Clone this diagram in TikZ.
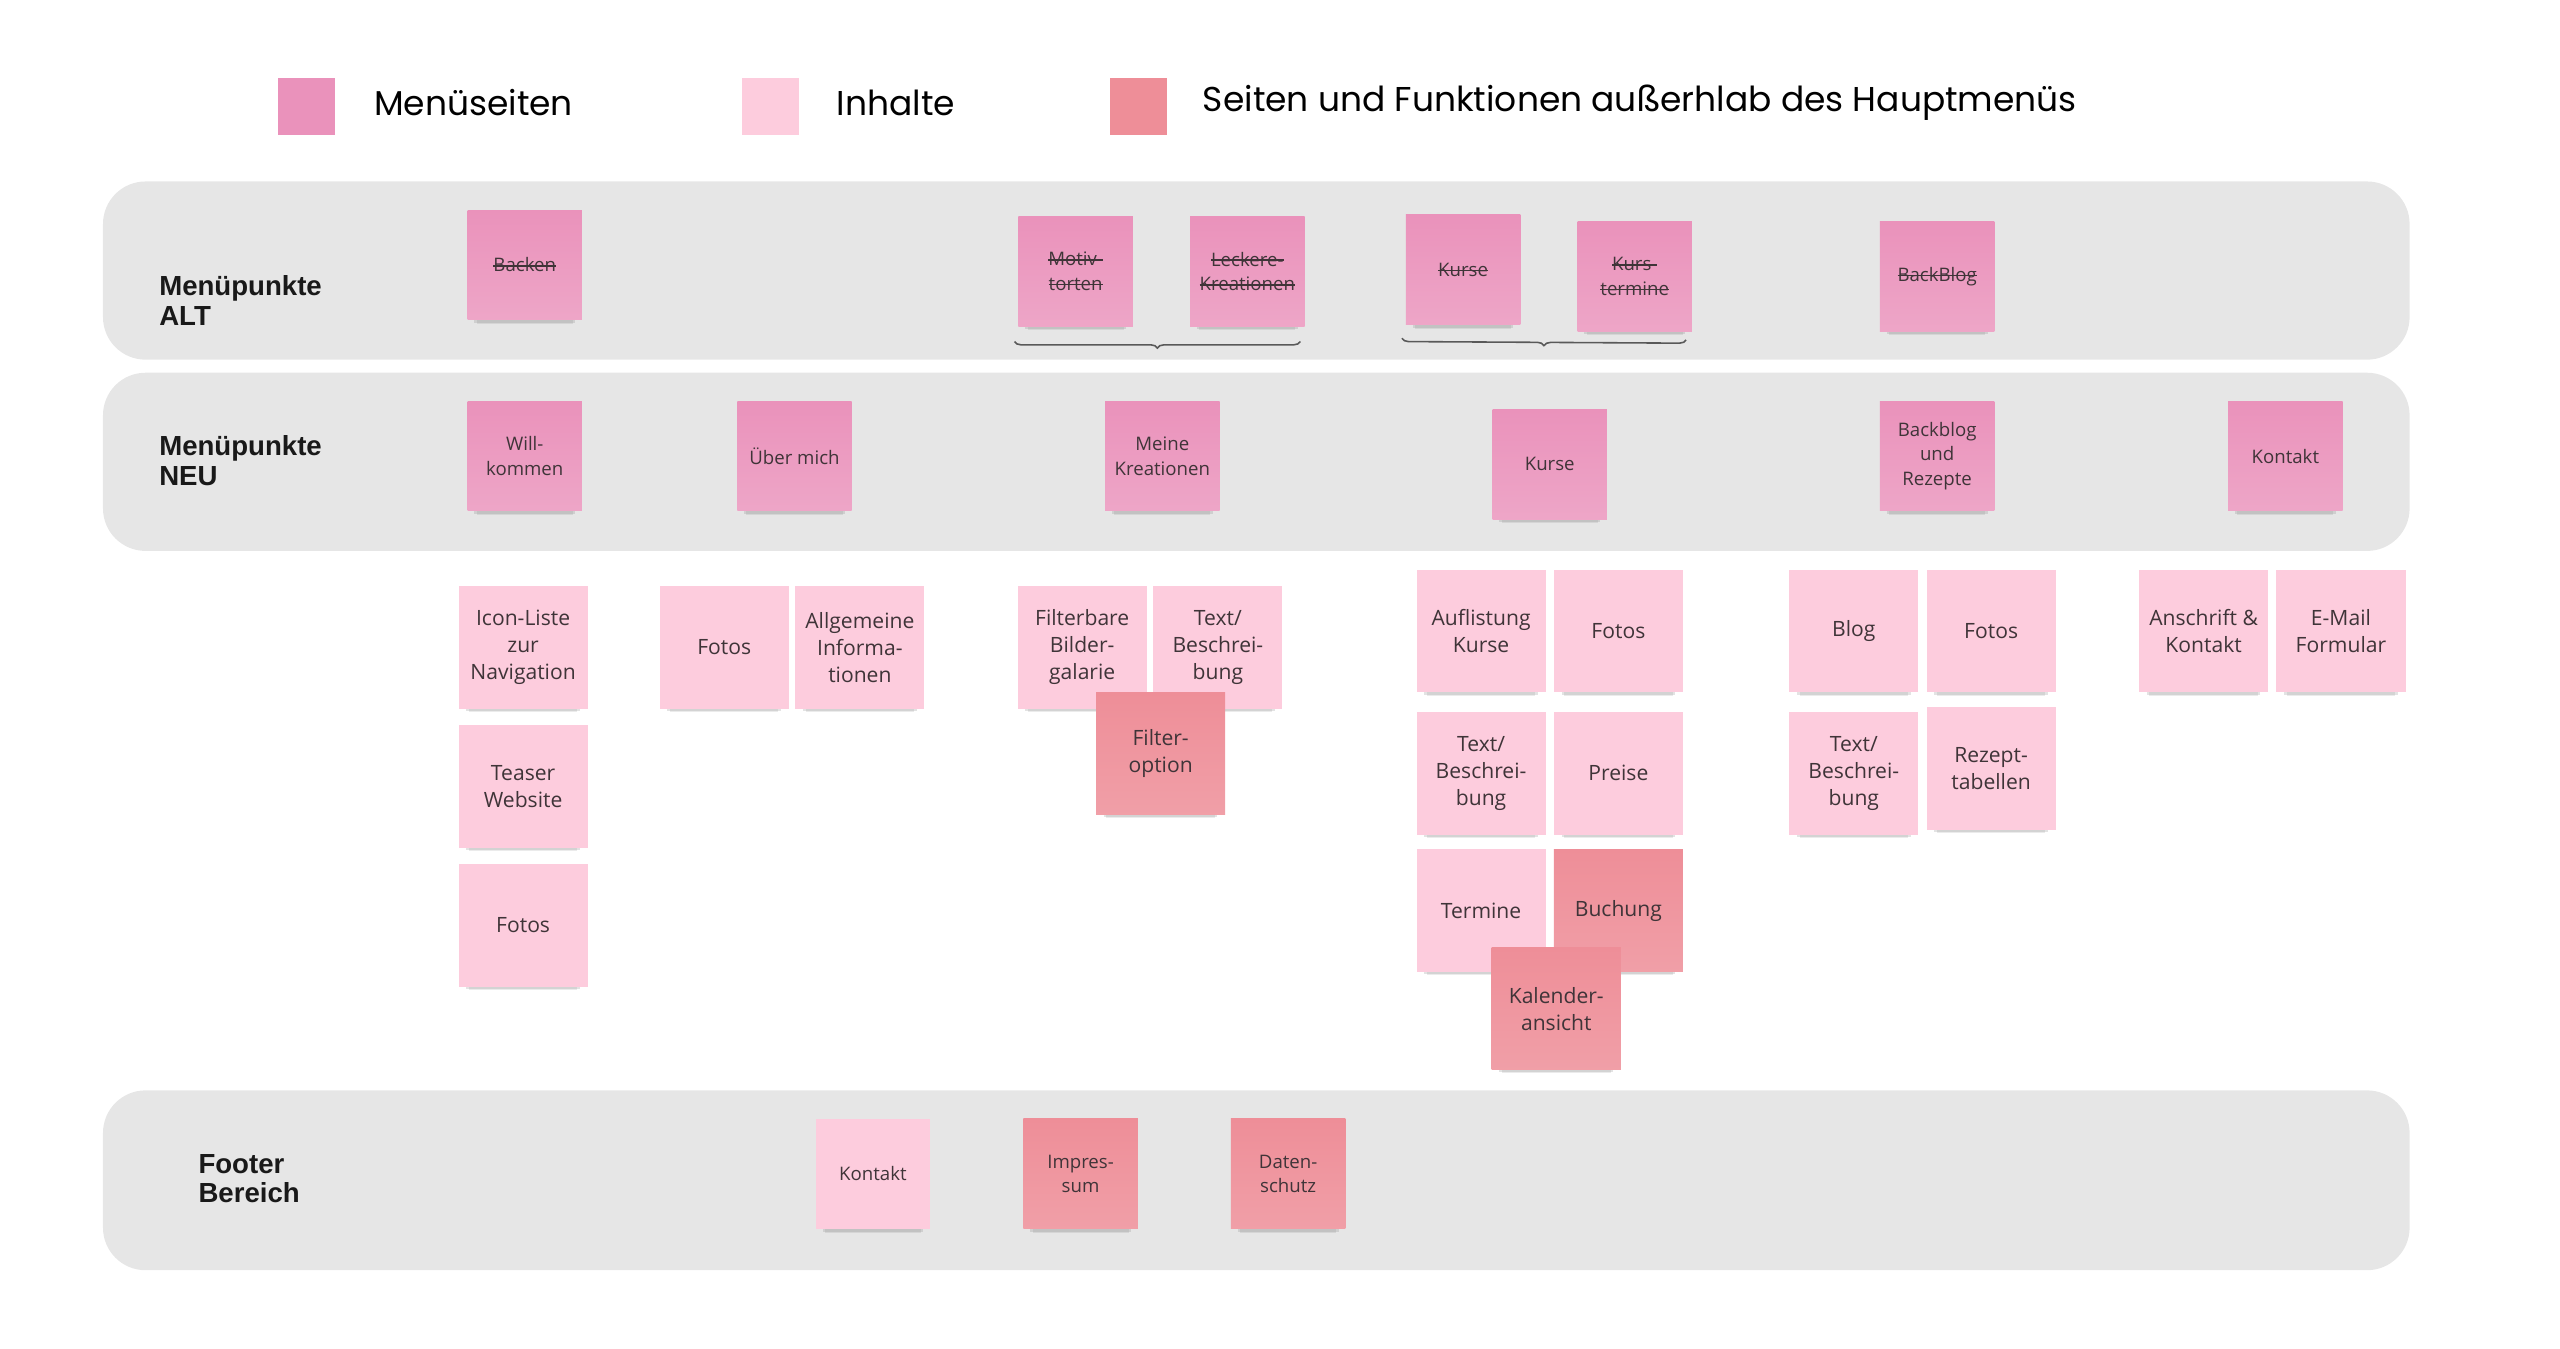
\documentclass[tikz,border=0pt]{standalone}
\usepackage{fontspec}
\usetikzlibrary{positioning,shadows,decorations.pathreplacing}

\newfontfamily\notefont{Open Sans}
\newfontfamily\legendfont{Poppins}
\newfontfamily\rowfont{Liberation Sans}

\definecolor{menupink}{HTML}{EA92BB}
\definecolor{contentpink}{HTML}{FDCCDD}
\definecolor{extrapink}{HTML}{EE8E98}
\definecolor{bandgray}{HTML}{E6E6E6}
\definecolor{notetext}{HTML}{3F3438}

\newlength\upx
\setlength\upx{0.016347cm}
\newlength\strikewd
\newcommand\strike[1]{\settowidth\strikewd{#1}\rlap{\rule[0.5ex]{\strikewd}{0.45pt}}#1}

\begin{document}
\begin{tikzpicture}[x=0.016347cm, y=-0.016347cm,
    band/.style={fill=bandgray, rounded corners=26\upx},
    rowlabel/.style={anchor=west, align=left, inner sep=0pt, text=black!90,
      font=\rowfont\bfseries\fontsize{7.85}{8.5}\selectfont},
    legendbox/.style={minimum size=35\upx, inner sep=0pt},
    legendtext/.style={inner sep=0pt, yshift=2\upx, font=\legendfont\fontsize{9.8}{12}\selectfont},
    note/.style={minimum width=70\upx, minimum height=67\upx, inner sep=0pt,
      align=center, text=notetext, font=\notefont\fontsize{5.3}{7}\selectfont,
      drop shadow={shadow xshift=0pt, shadow yshift=-4.4pt, opacity=0.16, shadow scale=0.84},
      drop shadow={shadow xshift=0pt, shadow yshift=-3.2pt, opacity=0.22, shadow scale=0.88}},
    menunote/.style={note, top color=menupink, bottom color=menupink!82!white},
    content/.style={note, fill=contentpink, minimum width=79\upx, minimum height=75\upx,
      font=\notefont\fontsize{6}{7.7}\selectfont},
    extra/.style={content, top color=extrapink, bottom color=extrapink!85!white},
    footcontent/.style={note, fill=contentpink},
    footextra/.style={note, top color=extrapink, bottom color=extrapink!85!white},
    brace/.style={draw=black!65, line width=0.45pt, decorate,
      decoration={brace, mirror, amplitude=4\upx}}]

  \useasboundingbox (0,0) rectangle (1566,824.6);

  % legend
  \node[legendbox, fill=menupink] (lgmenu) at (187.5,65) {};
  \node[legendtext, right=23\upx of lgmenu] (lgmenutext) {Menüseiten};
  \node[legendbox, fill=contentpink] (lgcontent) at (471.5,65) {};
  \node[legendtext, right=22\upx of lgcontent] (lgcontenttext) {Inhalte};
  \node[legendbox, fill=extrapink] (lgextra) at (696.5,65) {};
  \node[legendtext, right=21\upx of lgextra] (lgextratext) {Seiten und Funktionen außerhlab des Hauptmenüs};

  % bands
  \fill[band] (63,111) rectangle (1474,220);
  \fill[band] (63,228) rectangle (1474,337);
  \fill[band] (63,667) rectangle (1474,777);

  \node[rowlabel] (altlabel) at (97,184) {Menüpunkte\\ALT};
  \node[rowlabel] (neulabel) at (97,282) {Menüpunkte\\NEU};
  \node[rowlabel] (footlabel) at (121,721) {Footer\\Bereich};

  % menu old
  \node[menunote] (oldbacken) at (321,162) {\strike{Backen}};
  \node[menunote] (oldmotiv) at (658,166) {\strike{Motiv-}\\\strike{torten}};
  \node[menunote] (oldleckere) at (763,166) {\strike{Leckere-}\\\strike{Kreationen}};
  \node[menunote] (oldkurse) at (895,165) {\strike{Kurse}};
  \node[menunote] (oldtermine) at (1000,169) {\strike{Kurs-}\\\strike{termine}};
  \node[menunote] (oldblog) at (1185,169) {\strike{BackBlog}};

  \draw[brace] ([xshift=-2\upx,yshift=-9\upx]oldmotiv.south west) -- ([xshift=-3\upx,yshift=-9\upx]oldleckere.south east);
  \draw[brace] ([xshift=-2\upx,yshift=-8\upx]oldkurse.south west) -- ([xshift=-4\upx,yshift=-5\upx]oldtermine.south east);

  % menu new
  \node[menunote] (willkommen) at (321,279) {Will-\\kommen};
  \node[menunote] (uebermich) at (486,279) {Über mich};
  \node[menunote] (kreationen) at (711,279) {Meine\\Kreationen};
  \node[menunote] (kurse) at (948,284) {Kurse};
  \node[menunote] (backblog) at (1185,279) {Backblog\\und\\Rezepte};
  \node[menunote] (kontakt) at (1398,279) {Kontakt};

  % contents
  \node[content] (iconliste) at (320,396) {Icon-Liste\\zur\\Navigation};
  \node[content] (teaser) at (320,481) {Teaser\\Website};
  \node[content] (wfotos) at (320,566) {Fotos};

  \node[content] (ufotos) at (443,396) {Fotos};
  \node[content] (allgemein) at (526,396) {Allgemeine\\Informa-\\tionen};

  \node[content] (galerie) at (662,396) {Filterbare\\Bilder-\\galarie};
  \node[content] (ktext) at (745,396) {Text/\\Beschrei-\\bung};
  \node[extra] (filter) at (710,461) {Filter-\\option};

  \node[content] (auflistung) at (906,386) {Auflistung\\Kurse};
  \node[content] (kfotos) at (990,386) {Fotos};
  \node[content] (kurstext) at (906,473) {Text/\\Beschrei-\\bung};
  \node[content] (preise) at (990,473) {Preise};
  \node[content] (termine) at (906,557) {Termine};
  \node[extra] (buchung) at (990,557) {Buchung};
  \node[extra] (kalender) at (952,617) {Kalender-\\ansicht};

  \node[content] (blog) at (1134,386) {Blog};
  \node[content] (bfotos) at (1218,386) {Fotos};
  \node[content] (blogtext) at (1134,473) {Text/\\Beschrei-\\bung};
  \node[content] (rezept) at (1218,470) {Rezept-\\tabellen};

  \node[content] (anschrift) at (1348,386) {Anschrift \&\\Kontakt};
  \node[content] (email) at (1432,386) {E-Mail\\Formular};

  % footer
  \node[footcontent] (fkontakt) at (534,718) {Kontakt};
  \node[footextra] (impressum) at (661,718) {Impres-\\sum};
  \node[footextra] (datenschutz) at (788,718) {Daten-\\schutz};
\end{tikzpicture}
\end{document}
